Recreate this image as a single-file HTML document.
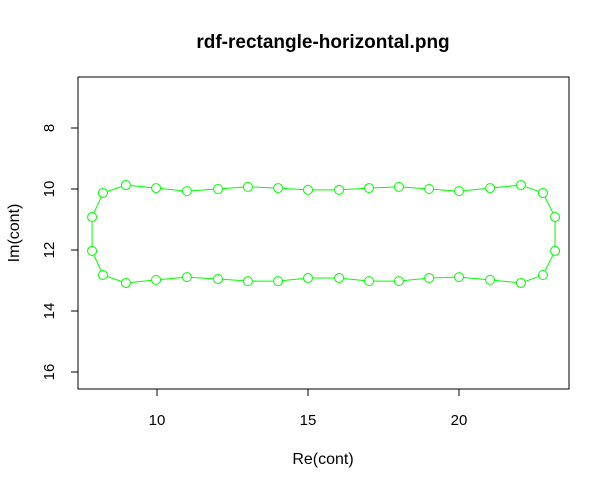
<!DOCTYPE html>
<html><head><meta charset="utf-8"><style>
body{margin:0;background:#fff;}
svg text{font-family:"Liberation Sans",sans-serif;}
</style></head><body>
<svg id="chart" width="609" height="488" xmlns="http://www.w3.org/2000/svg">
<rect width="609" height="488" fill="#fff"/>
<text x="323" y="48" text-anchor="middle" font-size="19" font-weight="bold">rdf-rectangle-horizontal.png</text>
<rect x="78" y="77" width="491" height="312" fill="none" stroke="#000"/>
<text x="323" y="464" text-anchor="middle" font-size="16">Re(cont)</text>
<text transform="translate(19,233) rotate(-90)" text-anchor="middle" font-size="16">Im(cont)</text>
<g id="axes"></g>
<g id="series"></g>
</svg>
<script>
const xTicks=[10,15,20];
const yTicks=[8,10,12,14,16];
const reVals=[8.21,7.85,7.85,8.21,8.97,9.97,10.99,12.02,13.01,14.01,15.0,16.03,17.02,18.01,19.01,20.0,21.03,22.05,22.78,23.18,23.18,22.78,22.05,21.03,20.0,19.01,18.01,17.02,16.03,15.0,14.01,13.01,12.02,10.99,9.97,8.97];
const imVals=[10.13,10.92,12.03,12.82,13.08,12.98,12.89,12.95,13.02,13.02,12.92,12.92,13.02,13.02,12.92,12.89,12.98,13.08,12.82,12.03,10.92,10.13,9.87,9.97,10.07,10.0,9.93,9.97,10.03,10.03,9.97,9.93,10.0,10.07,9.97,9.87];
const NS="http://www.w3.org/2000/svg";
const X=v=>157+(v-10)*30.2;
const Y=v=>189+(v-10)*30.5;
const axes=document.getElementById('axes');
function mk(tag,attrs,parent){const e=document.createElementNS(NS,tag);for(const k in attrs)e.setAttribute(k,attrs[k]);parent.appendChild(e);return e;}
const xl=mk('line',{x1:X(xTicks[0]),x2:X(xTicks[xTicks.length-1]),y1:389,y2:389,stroke:'#000'},axes);


xTicks.forEach(t=>{
 const l=mk('line',{x1:X(t),x2:X(t),y1:389,y2:396,stroke:'#000'},axes);
 
 
 const tx=mk('text',{x:X(t),y:425,'text-anchor':'middle','font-size':15},axes);tx.textContent=t;
 
 
});
const yl=mk('line',{x1:78,x2:78,y1:Y(yTicks[0]),y2:Y(yTicks[yTicks.length-1]),stroke:'#000'},axes);


yTicks.forEach(t=>{
 const l=mk('line',{x1:71,x2:78,y1:Y(t),y2:Y(t),stroke:'#000'},axes);
 
 
 const tx=mk('text',{x:0,y:0,'text-anchor':'middle','font-size':15,transform:`translate(54,${Y(t)}) rotate(-90)`},axes);tx.textContent=t;
 
 
});
const s=document.getElementById('series');
const n=reVals.length,r=4.5;
for(let i=0;i<n;i++){
 const j=(i+1)%n;
 const x1=X(reVals[i]),y1=Y(imVals[i]),x2=X(reVals[j]),y2=Y(imVals[j]);
 const d=Math.hypot(x2-x1,y2-y1);
 if(d>2*r){const ux=(x2-x1)/d,uy=(y2-y1)/d;
  const l=mk('line',{x1:x1+ux*r,y1:y1+uy*r,x2:x2-ux*r,y2:y2-uy*r,stroke:'#00ff00'},s);
  
  }
}
for(let i=0;i<n;i++){
 const c=mk('circle',{cx:X(reVals[i]),cy:Y(imVals[i]),r:r,fill:'none',stroke:'#00ff00'},s);
 
 
}
</script>
</body></html>
